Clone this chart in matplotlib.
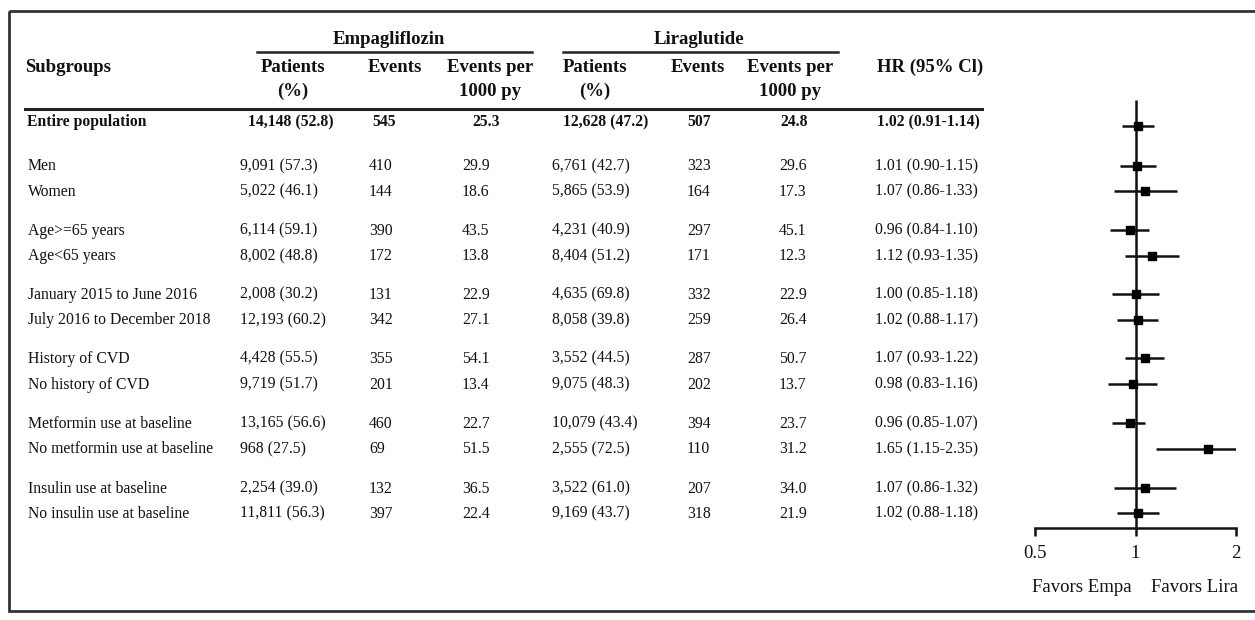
import matplotlib
matplotlib.use("Agg")
import matplotlib.pyplot as plt
from matplotlib.patches import Rectangle

plt.rcParams['font.family'] = ['Liberation Serif', 'DejaVu Serif']

# ---------------- data ----------------
subgroups = ["Entire population", "Men", "Women", "Age>=65 years", "Age<65 years",
             "January 2015 to June 2016", "July 2016 to December 2018",
             "History of CVD", "No history of CVD",
             "Metformin use at baseline", "No metformin use at baseline",
             "Insulin use at baseline", "No insulin use at baseline"]
empa_patients = ["14,148 (52.8)", "9,091 (57.3)", "5,022 (46.1)", "6,114 (59.1)", "8,002 (48.8)",
                 "2,008 (30.2)", "12,193 (60.2)", "4,428 (55.5)", "9,719 (51.7)",
                 "13,165 (56.6)", "968 (27.5)", "2,254 (39.0)", "11,811 (56.3)"]
empa_events = ["545", "410", "144", "390", "172", "131", "342", "355", "201", "460", "69", "132", "397"]
empa_rate = ["25.3", "29.9", "18.6", "43.5", "13.8", "22.9", "27.1", "54.1", "13.4", "22.7", "51.5", "36.5", "22.4"]
lira_patients = ["12,628 (47.2)", "6,761 (42.7)", "5,865 (53.9)", "4,231 (40.9)", "8,404 (51.2)",
                 "4,635 (69.8)", "8,058 (39.8)", "3,552 (44.5)", "9,075 (48.3)",
                 "10,079 (43.4)", "2,555 (72.5)", "3,522 (61.0)", "9,169 (43.7)"]
lira_events = ["507", "323", "164", "297", "171", "332", "259", "287", "202", "394", "110", "207", "318"]
lira_rate = ["24.8", "29.6", "17.3", "45.1", "12.3", "22.9", "26.4", "50.7", "13.7", "23.7", "31.2", "34.0", "21.9"]
hr = [1.02, 1.01, 1.07, 0.96, 1.12, 1.00, 1.02, 1.07, 0.98, 0.96, 1.65, 1.07, 1.02]
hr_lo = [0.91, 0.90, 0.86, 0.84, 0.93, 0.85, 0.88, 0.93, 0.83, 0.85, 1.15, 0.86, 0.88]
hr_hi = [1.14, 1.15, 1.33, 1.10, 1.35, 1.18, 1.17, 1.22, 1.16, 1.07, 2.35, 1.32, 1.18]
hr_text = [f"{h:.2f} ({l:.2f}-{u:.2f})" for h, l, u in zip(hr, hr_lo, hr_hi)]
x_ticks = [0.5, 1, 2]
x_ticklabels = ["0.5", "1", "2"]

# ---------------- layout ----------------
W, H = 1255, 620
fig = plt.figure(figsize=(W / 100, H / 100), dpi=100)
tab = fig.add_axes([0, 0, 1, 1])
tab.set_xlim(0, W)
tab.set_ylim(H, 0)
tab.axis('off')

ink = '#111111'
row_y = [126, 165.5, 191, 230, 255.5, 294, 319.5, 358, 384, 423, 448.5, 488, 513]
col_x = [28, 240, 369, 462, 552, 687, 779, 875]
col_x_bold = [27, 248, 372, 472, 563, 687, 780, 877]
body_fs = 11.3
head_fs = 13.5

# border
tab.add_patch(Rectangle((9, 11), W + 20, 600, fill=False, lw=2, ec='#333333'))

# headers
tab.text(389, 43.5, "Empagliflozin", ha='center', va='baseline', fontsize=head_fs, weight='bold', color=ink)
tab.text(699, 43.5, "Liraglutide", ha='center', va='baseline', fontsize=head_fs, weight='bold', color=ink)
tab.plot([257, 532], [52, 52], color='#222222', lw=1.8)
tab.plot([563, 838], [52, 52], color='#222222', lw=1.8)
tab.text(25, 72, "Subgroups", ha='left', va='baseline', fontsize=head_fs, weight='bold', color=ink)
for cx, (l1, l2) in zip([293, 395, 490, 595, 698, 790],
                        [("Patients", "(%)"), ("Events", None), ("Events per", "1000 py")] * 2):
    tab.text(cx, 72, l1, ha='center', va='baseline', fontsize=head_fs, weight='bold', color=ink)
    if l2:
        tab.text(cx, 95.5, l2, ha='center', va='baseline', fontsize=head_fs, weight='bold', color=ink)
tab.text(930, 72, "HR (95% Cl)", ha='center', va='baseline', fontsize=head_fs, weight='bold', color=ink)
tab.plot([25, 982], [109, 109], color='#222222', lw=2.2)

# body rows
cols = [subgroups, empa_patients, empa_events, empa_rate, lira_patients, lira_events, lira_rate, hr_text]
for i, y in enumerate(row_y):
    bold = (i == 0)
    xs = col_x_bold if bold else col_x
    base = y + (0 if bold else 4.7)
    for x, col in zip(xs, cols):
        tab.text(x, base, col[i], ha='left', va='baseline', fontsize=body_fs,
                 weight='bold' if bold else 'normal', color=ink)

# ---------------- forest ----------------
x0, x1 = 1035, 1236
fa = fig.add_axes([x0 / W, 0, (x1 - x0) / W, 1])
fa.set_xscale('log')
fa.set_xlim(0.5, 2)
fa.set_ylim(H, 0)
fa.patch.set_alpha(0)
for s in ['top', 'right', 'left']:
    fa.spines[s].set_visible(False)
fa.spines['bottom'].set_position(('data', 528))
fa.spines['bottom'].set_linewidth(1.8)
fa.spines['bottom'].set_color('#111111')
fa.set_yticks([])
fa.set_xticks(x_ticks)
fa.set_xticklabels(x_ticklabels, fontsize=13.5, color=ink)
fa.minorticks_off()
fa.tick_params(axis='x', direction='out', length=6, width=1.8, color='#111111', pad=6)
fa.plot([1, 1], [100, 528], color='#111111', lw=1.8, solid_capstyle='butt')
fa.hlines(row_y, hr_lo, hr_hi, color='#111111', lw=1.8)
fa.plot(hr, row_y, 's', color='black', ms=5.5, mec='black')
fa.text(0.5, 0.5 * 0 + 0, "", transform=fa.transAxes)

tab.text(1082, 592, "Favors Empa", ha='center', va='baseline', fontsize=13.5, color=ink)
tab.text(1195, 592, "Favors Lira", ha='center', va='baseline', fontsize=13.5, color=ink)

fig.savefig("out.png", dpi=100)
